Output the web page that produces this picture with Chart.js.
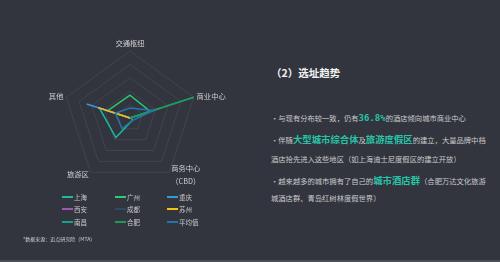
<!DOCTYPE html>
<html>
<head>
<meta charset="utf-8">
<script src="https://cdn.jsdelivr.net/npm/chart.js@4.4.0/dist/chart.umd.min.js"></script>
<style>
html, body { margin: 0; padding: 0; }
body {
    width: 500px; height: 262px; overflow: hidden; position: relative;
    background: #32353e; color: #c9c9c9;
    font-family: "Noto Sans CJK SC", "Noto Sans", sans-serif;
}
#wrap { position: absolute; left: 0; top: 0; width: 250px; height: 262px; }
.item { position: absolute; height: 10px; display: flex; align-items: center; font-size: 6.5px; color: #c8c8c8; white-space: nowrap; }
.item i { display: inline-block; width: 11px; height: 2px; margin-right: 1px; }
.note { position: absolute; left: 23px; top: 235px; font-size: 5px; line-height: 8px; color: #d0d0d0; white-space: nowrap; }
.title { position: absolute; left: 271px; top: 66px; font-size: 10.5px; line-height: 14px; font-weight: bold; color: #f2f2f2; white-space: nowrap; }
.line { position: absolute; left: 271px; height: 20px; line-height: 20px; font-size: 7.3px; color: #cbcbcb; white-space: nowrap; }
.hl { font-size: 9.4px; font-weight: bold; color: #27c4a8; }
.num { font-family: "DejaVu Sans Mono", monospace; font-size: 9px; font-weight: bold; color: #27c4a8; }
.edge { position: absolute; left: 0; top: 260px; width: 500px; height: 2px; background: #4a4d55; }
</style>
</head>
<body>
<div id="wrap"><canvas id="radar"></canvas></div>
<div id="legend"></div>
<div class="note">*数据来源：迈点研究院（MTA）</div>

<div class="title">（2）选址趋势</div>
<div class="line" style="top:108px">·与现有分布较一致，仍有<span class="num">36.8%</span>的酒店倾向城市商业中心</div>
<div class="line" style="top:129px">·伴随<span class="hl">大型城市综合体</span>及<span class="hl">旅游度假区</span>的建立，大量品牌中档</div>
<div class="line" style="top:149px">酒店抢先进入这些地区（如上海迪士尼度假区的建立开放）</div>
<div class="line" style="top:170px">·越来越多的城市拥有了自己的<span class="hl">城市酒店群</span>（合肥万达文化旅游</div>
<div class="line" style="top:188px">城酒店群、青岛红树林度假世界）</div>
<div class="edge"></div>

<script>
// axes: 交通枢纽, 商业中心, 商务中心(CBD), 旅游区, 其他 (in %)
const indicators = ["交通枢纽", "商业中心", ["商务中心", "（CBD）"], "旅游区", "其他"]
const cities = ["上海", "广州", "重庆", "西安", "成都", "苏州", "南昌", "合肥", "平均值"]

const shanghai = [0, 3, 5, 36, 48]
const guangzhou = [34, 32, 0, 0, 35]
const chongqing = [0, 32, 0, 0, 68]
const xian = [0, 50, 0, 0, 50]
const chengdu = [0, 38, 0, 0, 0]
const suzhou = [0, 0, 0, 0, 50]
const nanchang = [0, 100, 0, 0, 0]
const hefei = [0, 100, 0, 0, 0]
const average = [15, 36.8, 5, 20, 23]

const seriesValues = [shanghai, guangzhou, chongqing, xian, chengdu, suzhou, nanchang, hefei, average]
const colors = ["#1abc9c", "#2ecc71", "#3498db", "#9b59b6", "#34495e", "#f1c40f", "#16a085", "#229954", "#2475ab"]

// later series on top, like the original
const datasets = cities.map((name, i) => ({
    label: name,
    data: seriesValues[i],
    borderColor: colors[i],
    backgroundColor: "transparent",
    fill: false,
    order: cities.length - i,
}))

// axis names drawn beside each vertex
const axisNames = {
    id: "axisNames",
    afterDraw(chart) {
        const scale = chart.scales.r
        const ctx = chart.ctx
        ctx.save()
        ctx.font = '7.3px "Noto Sans CJK SC"'
        ctx.fillStyle = "#cfcfcf"
        ctx.textAlign = "center"
        ctx.textBaseline = "middle"
        const lh = 13.5
        indicators.forEach((name, i) => {
            const lines = [].concat(name)
            const pos = scale.getPointPosition(i, scale.drawingArea + (i === 0 ? 4 : 3))
            const dx = pos.x - scale.xCenter
            const w = Math.max(...lines.map((l) => ctx.measureText(l).width))
            let x = pos.x
            if (dx > 1) x += w / 2
            else if (dx < -1) x -= w / 2
            let y = i === 0 ? pos.y - 4 : pos.y - ((lines.length - 1) * lh) / 2
            lines.forEach((l, k) => ctx.fillText(l, x, y + k * lh))
        })
        ctx.restore()
    },
}

new Chart(document.getElementById("radar"), {
    type: "radar",
    data: { labels: indicators, datasets },
    options: {
        responsive: true,
        maintainAspectRatio: false,
        animation: false,
        layout: { padding: { left: 63, right: 53, top: 51, bottom: 77 } },
        plugins: { legend: { display: false }, tooltip: { enabled: false } },
        elements: {
            line: { borderWidth: 1.5, tension: 0 },
            point: { radius: 0, hoverRadius: 0 },
        },
        scales: {
            r: {
                min: 0,
                max: 100,
                ticks: { display: false, stepSize: 20 },
                angleLines: { display: false },
                grid: { color: "rgba(255,255,255,0.08)", lineWidth: 1 },
                pointLabels: { display: false },
            },
        },
    },
    plugins: [axisNames],
})

// legend, three columns
const legend = document.getElementById("legend")
const colX = [62, 115, 167]
const rowY = [191.5, 204, 217]
cities.forEach((name, i) => {
    const el = document.createElement("div")
    el.className = "item"
    el.style.left = colX[i % 3] + "px"
    el.style.top = rowY[Math.floor(i / 3)] + "px"
    el.innerHTML = '<i style="background:' + colors[i] + '"></i>' + name
    legend.appendChild(el)
})
</script>
</body>
</html>
